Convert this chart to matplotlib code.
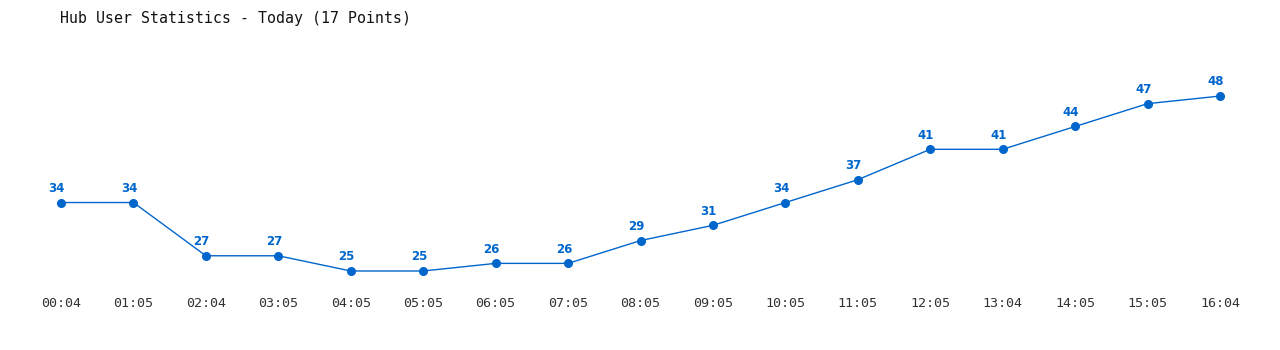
import matplotlib
matplotlib.use("Agg")
import matplotlib.pyplot as plt

times = ["00:04", "01:05", "02:04", "03:05", "04:05", "05:05", "06:05", "07:05",
         "08:05", "09:05", "10:05", "11:05", "12:05", "13:04", "14:05", "15:05", "16:04"]
users = [34, 34, 27, 27, 25, 25, 26, 26, 29, 31, 34, 37, 41, 41, 44, 47, 48]

W, H = 1280, 350
fig = plt.figure(figsize=(W / 100, H / 100), dpi=100)
left, right = 61 / W, 1220 / W
bottom, top = 1 - 290 / H, 1 - 40 / H
ax = fig.add_axes([left, bottom, right - left, top - bottom])

color = "#0066cc"
x = list(range(len(users)))
ax.plot(x, users, color=color, linewidth=1, marker="o", markersize=5.5, clip_on=False)
for xi, v in zip(x, users):
    ax.annotate(str(v), (xi, v), xytext=(-3, 5.5), textcoords="offset points",
                ha="center", va="bottom", color=color, fontsize=8.5, fontweight="bold",
                family="DejaVu Sans")

ax.set_xlim(0, len(users) - 1)
ax.set_ylim(22.5, 55.37)
ax.set_xticks(x)
ax.set_xticklabels(times, family="DejaVu Sans Mono", fontsize=9.6, color="#333333")
ax.tick_params(axis="x", length=0, pad=5)
ax.set_yticks([])
for s in ax.spines.values():
    s.set_visible(False)

fig.text(60 / W, 1 - 18 / H, "Hub User Statistics - Today (17 Points)",
         family="DejaVu Sans Mono", fontsize=10.7, color="#111111", va="center", ha="left")

fig.savefig("out.png", dpi=100)
